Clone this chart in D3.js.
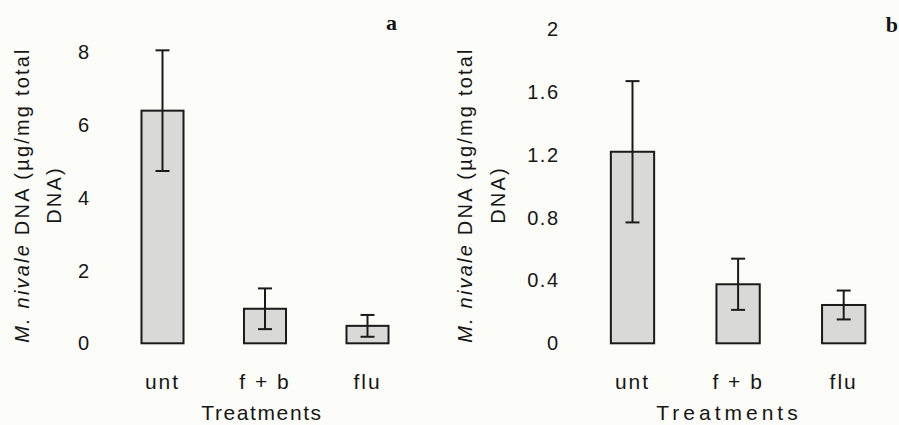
<!DOCTYPE html>
<html>
<head>
<meta charset="utf-8">
<script src="https://cdn.jsdelivr.net/npm/d3@7"></script>
<style>
  html, body { margin: 0; padding: 0; background: #fcfcf8; }
  svg { display: block; }
  text { fill: #161616; font-family: "Liberation Sans", Arial, sans-serif; }
</style>
</head>
<body>
<svg id="chart" width="899" height="425"></svg>
<script>
// Treatment groups shared by both panels
const categories = ["unt", "f + b", "flu"];

// Panel a: M. nivale DNA, means and standard errors
const meansA = [6.4, 0.95, 0.48];
const errorsA = [1.66, 0.56, 0.30];
const ticksA = [0, 2, 4, 6, 8];

// Panel b: M. nivale DNA, means and standard errors
const meansB = [1.22, 0.376, 0.244];
const errorsB = [0.45, 0.163, 0.092];
const ticksB = [0, 0.4, 0.8, 1.2, 1.6, 2];

const svg = d3.select("#chart");
svg.append("rect").attr("width", 899).attr("height", 425).attr("fill", "#fcfcf8");

const panels = [
  { letter: "a", means: meansA, errors: errorsA, ticks: ticksA, yMax: 8,
    xRange: [111.25, 418.75], yRange: [343.3, 52.5], tickRight: 90.5,
    title1X: 22, title2X: 54, letterX: 397, letterY: 30, xTitleX: 262, xTitleSpacing: 1.6 },
  { letter: "b", means: meansB, errors: errorsB, ticks: ticksB, yMax: 2,
    xRange: [579.7, 896.5], yRange: [343.3, 29.3], tickRight: 559.5,
    title1X: 465, title2X: 498, letterX: 898, letterY: 32, xTitleX: 729, xTitleSpacing: 4 }
];

panels.forEach(p => {
  const data = categories.map((c, i) => ({ cat: c, mean: p.means[i], err: p.errors[i] }));

  const x = d3.scaleBand().domain(categories).range(p.xRange)
    .paddingInner(0.59).paddingOuter(0.295);
  const y = d3.scaleLinear().domain([0, p.yMax]).range(p.yRange);

  const g = svg.append("g");

  // y axis: labels only, no line or tick marks
  const yAxis = g.append("g")
    .attr("transform", `translate(${p.xRange[0]},0)`)
    .call(d3.axisLeft(y).tickValues(p.ticks).tickSize(0)
      .tickPadding(p.xRange[0] - p.tickRight).tickFormat(d => String(d)));
  yAxis.select(".domain").remove();
  yAxis.selectAll("text")
    .style("font-family", "'Liberation Sans', Arial, sans-serif")
    .style("font-size", "20px").style("letter-spacing", "1.5px")
    .attr("fill", "#161616");

  // x axis: category labels only
  const xAxis = g.append("g")
    .attr("transform", `translate(0,${p.yRange[0]})`)
    .call(d3.axisBottom(x).tickSize(0).tickPadding(31));
  xAxis.select(".domain").remove();
  xAxis.selectAll("text")
    .style("font-family", "'Liberation Sans', Arial, sans-serif")
    .style("font-size", "21px").style("letter-spacing", "2px")
    .attr("fill", "#161616");

  // bars
  g.selectAll("rect.bar").data(data).join("rect")
    .attr("class", "bar")
    .attr("x", d => x(d.cat))
    .attr("y", d => y(d.mean))
    .attr("width", x.bandwidth())
    .attr("height", d => y(0) - y(d.mean))
    .attr("fill", "#d9d9d7")
    .attr("stroke", "#1a1a1a")
    .attr("stroke-width", 2);

  // error bars
  const eb = g.selectAll("g.err").data(data).join("g").attr("class", "err")
    .attr("stroke", "#1a1a1a").attr("stroke-width", 2);
  const cx = d => x(d.cat) + x.bandwidth() / 2;
  eb.append("line")
    .attr("x1", cx).attr("x2", cx)
    .attr("y1", d => y(d.mean + d.err)).attr("y2", d => y(d.mean - d.err));
  eb.append("line")
    .attr("x1", d => cx(d) - 7).attr("x2", d => cx(d) + 7)
    .attr("y1", d => y(d.mean + d.err)).attr("y2", d => y(d.mean + d.err));
  eb.append("line")
    .attr("x1", d => cx(d) - 7).attr("x2", d => cx(d) + 7)
    .attr("y1", d => y(d.mean - d.err)).attr("y2", d => y(d.mean - d.err));

  // y axis title, two lines
  const midY = 195;
  const t1 = g.append("text")
    .attr("transform", `translate(${p.title1X},${midY}) rotate(-90)`)
    .attr("text-anchor", "middle").attr("dy", "0.35em")
    .style("font-size", "20px").style("letter-spacing", "2.2px");
  t1.append("tspan").style("font-style", "italic").text("M. nivale");
  t1.append("tspan").text(" DNA (µg/mg total");
  g.append("text")
    .attr("transform", `translate(${p.title2X},${midY}) rotate(-90)`)
    .attr("text-anchor", "middle").attr("dy", "0.35em")
    .style("font-size", "20px").style("letter-spacing", "2.2px")
    .text("DNA)");

  // x axis title
  g.append("text")
    .attr("x", p.xTitleX).attr("y", 420)
    .attr("text-anchor", "middle")
    .style("font-size", "21px").style("letter-spacing", p.xTitleSpacing + "px")
    .text("Treatments");

  // panel letter
  g.append("text")
    .attr("x", p.letterX).attr("y", p.letterY)
    .attr("text-anchor", "end")
    .style("font-family", "'Liberation Serif', 'Times New Roman', serif")
    .style("font-weight", "bold").style("font-size", "22px")
    .text(p.letter);
});
</script>
</body>
</html>
